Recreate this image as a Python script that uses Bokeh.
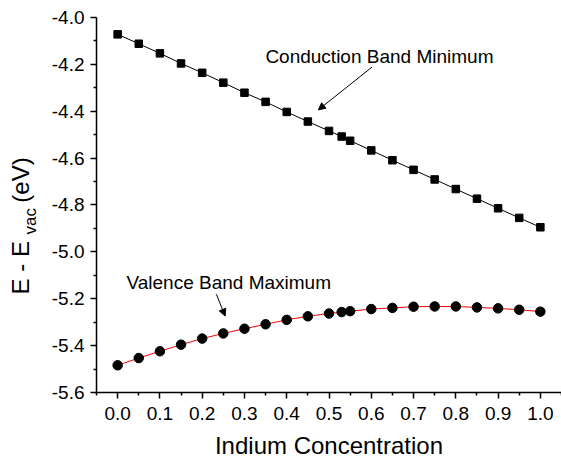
from bokeh.plotting import figure
from bokeh.models import (FixedTicker, Label, Arrow, NormalHead, PrintfTickFormatter,
                          Range1d, LinearAxis)
from bokeh.embed import file_html
from bokeh.resources import INLINE

# Data
indium = [0.0, 0.05, 0.1, 0.15, 0.2, 0.25, 0.3, 0.35, 0.4, 0.45, 0.5, 0.53, 0.55,
          0.6, 0.65, 0.7, 0.75, 0.8, 0.85, 0.9, 0.95, 1.0]
cbm = [-4.072, -4.112, -4.153, -4.196, -4.236, -4.278, -4.321, -4.360, -4.403, -4.444,
       -4.484, -4.508, -4.526, -4.567, -4.609, -4.650, -4.691, -4.732, -4.773, -4.814,
       -4.855, -4.895]
vbm = [-5.484, -5.453, -5.424, -5.396, -5.370, -5.348, -5.328, -5.309, -5.290, -5.275,
       -5.263, -5.257, -5.253, -5.244, -5.239, -5.234, -5.233, -5.233, -5.237, -5.241,
       -5.247, -5.255]

x_major = [0.0, 0.1, 0.2, 0.3, 0.4, 0.5, 0.6, 0.7, 0.8, 0.9, 1.0]
x_minor = [-0.05, 0.05, 0.15, 0.25, 0.35, 0.45, 0.55, 0.65, 0.75, 0.85, 0.95, 1.05]
y_major = [-5.6, -5.4, -5.2, -5.0, -4.8, -4.6, -4.4, -4.2, -4.0]
y_minor = [-5.5, -5.3, -5.1, -4.9, -4.7, -4.5, -4.3, -4.1]

FONT = "Liberation Sans"

p = figure(width=561, height=458, output_backend="svg", toolbar_location=None,
           x_range=Range1d(-0.2771, 1.05), y_range=Range1d(-5.8816, -3.9275),
           x_axis_location=None, y_axis_location=None,
           min_border_left=0, min_border_right=0, min_border_top=0, min_border_bottom=0)
p.grid.visible = False
p.outline_line_color = None
p.background_fill_color = "white"
p.border_fill_color = "white"

xaxis = LinearAxis(fixed_location=-5.6, bounds=(-0.05, 1.05))
yaxis = LinearAxis(fixed_location=-0.05, bounds=(-5.6, -4.0))
p.add_layout(xaxis, "below")
p.add_layout(yaxis, "left")

for ax, maj, mnr in ((xaxis, x_major, x_minor), (yaxis, y_major, y_minor)):
    ax.ticker = FixedTicker(ticks=maj, minor_ticks=mnr)
    ax.formatter = PrintfTickFormatter(format="%.1f")
    ax.major_tick_out = 6
    ax.major_tick_in = 0
    ax.minor_tick_out = 3
    ax.minor_tick_in = 0
    ax.axis_line_width = 1.5
    ax.major_tick_line_width = 1.5
    ax.minor_tick_line_width = 1.5
    ax.axis_line_color = "black"
    ax.major_tick_line_color = "black"
    ax.minor_tick_line_color = "black"
    ax.major_label_text_font = FONT
    ax.major_label_text_font_size = "19px"
    ax.major_label_text_color = "black"
xaxis.major_label_standoff = 9
yaxis.major_label_standoff = 6

# Lines and markers
p.line(indium, cbm, line_color="black", line_width=1)
p.scatter(indium, cbm, marker="square", size=7.5, fill_color="black", line_color="black")
p.line(indium, vbm, line_color="#ff0000", line_width=1)
p.scatter(indium, vbm, marker="circle", size=9.5, fill_color="black", line_color="black")

# Annotations
p.add_layout(Label(x=0.3495, y=-4.168, text="Conduction Band Minimum", text_font=FONT,
                   text_font_size="19px", text_color="black", text_baseline="alphabetic"))
p.add_layout(Label(x=0.0209, y=-5.129, text="Valence Band Maximum", text_font=FONT,
                   text_font_size="19px", text_color="black", text_baseline="alphabetic"))
p.add_layout(Arrow(x_start=0.6018, y_start=-4.2115, x_end=0.4748, y_end=-4.394,
                   line_color="black", line_width=1,
                   end=NormalHead(size=7, fill_color="black", line_color="black")))
p.add_layout(Arrow(x_start=0.2337, y_start=-5.181, x_end=0.2543, y_end=-5.274,
                   line_color="black", line_width=1,
                   end=NormalHead(size=7, fill_color="black", line_color="black")))

# Axis titles
p.add_layout(Label(x=0.5, y=-5.828, text="Indium Concentration", text_font=FONT,
                   text_font_size="24px", text_color="black", text_align="center",
                   text_baseline="alphabetic"))
p.add_layout(Label(x=-0.2297, y=-5.1817, text="E - E", angle=1.5707963, text_font=FONT,
                   text_font_size="24px", text_color="black", text_baseline="alphabetic"))
p.add_layout(Label(x=-0.2059, y=-4.926, text="vac", angle=1.5707963, text_font=FONT,
                   text_font_size="17px", text_color="black", text_baseline="alphabetic"))
p.add_layout(Label(x=-0.2297, y=-4.790, text="(eV)", angle=1.5707963, text_font=FONT,
                   text_font_size="24px", text_color="black", text_baseline="alphabetic"))

open("out.html", "w").write(file_html(p, INLINE))
